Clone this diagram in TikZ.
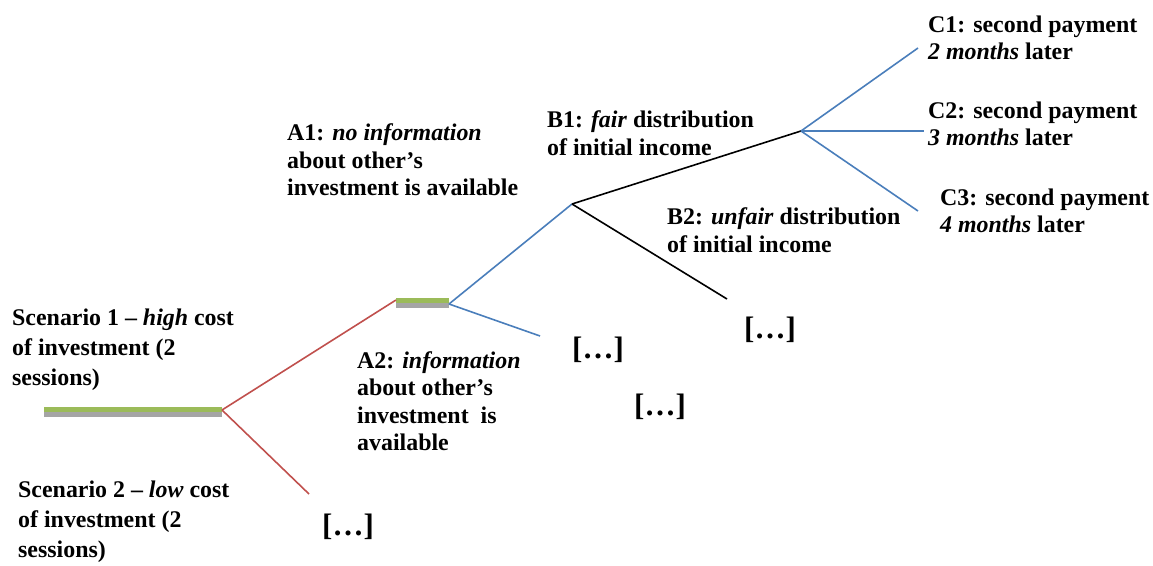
\documentclass[tikz,border=0pt]{standalone}
\usepackage{fontspec}
\setmainfont{Liberation Serif}
\usetikzlibrary{arrows.meta}

\definecolor{treeblue}{RGB}{74,126,187}
\definecolor{treered}{RGB}{192,80,77}
\definecolor{bargreen}{RGB}{155,187,89}
\definecolor{bargrey}{RGB}{165,165,165}

\tikzset{
    lbl/.style={anchor=west, align=left, inner sep=0pt,
        font=\fontsize{23.9}{27.5}\selectfont\bfseries},
    scen/.style={lbl, font=\fontsize{23.9}{30}\selectfont\bfseries},
    more/.style={inner sep=0pt, font=\fontsize{31}{32}\selectfont\bfseries},
    redbr/.style={treered, line width=1.6pt},
    bluebr/.style={treeblue, line width=1.6pt},
    blackbr/.style={black, line width=1.6pt}
}

\begin{document}
\begin{tikzpicture}[x=1pt, y=-1pt]

\useasboundingbox (0,0) rectangle (1153,565);

% ---- Decision points ----
            \coordinate (root) at (222,410);
            \coordinate (aIn)  at (396,300);
            \coordinate (aOut) at (449,304);
            \coordinate (b)    at (572,204);
            \coordinate (c)    at (801,131);

% ---- Bars (green over grey) ----
            \fill[bargrey]  (44,411.5) rectangle (222,416.5);
            \fill[bargreen] (44,406.5) rectangle (222,411.5);
            \fill[bargrey]  (396,303) rectangle (449,308);
            \fill[bargreen] (396,298) rectangle (449,303);

% ---- Branch ends ----
            \coordinate (s2)  at (309,494);
            \coordinate (a2)  at (540,336);
            \coordinate (b2)  at (727,299);
            \coordinate (c1)  at (918,48);
            \coordinate (c2)  at (924,131);
            \coordinate (c3)  at (918,211);

% ---- Branches ----
            \draw[redbr] (root) -- (aIn);
            \draw[redbr] (root) -- (s2);
            \draw[bluebr] (aOut) -- (b);
            \draw[bluebr] (aOut) -- (a2);
            \draw[blackbr] (b) -- (c);
            \draw[blackbr] (b) -- (b2);
            \draw[bluebr] (c) -- (c1);
            \draw[bluebr] (c) -- (c2);
            \draw[bluebr] (c) -- (c3);

% ---- Labels ----
            \node[scen] (scen1) at (12,350) {Scenario 1 -- \textit{high} cost\\of investment (2\\sessions)};
            \node[scen] (scen2) at (18,522) {Scenario 2 -- \textit{low} cost\\of investment (2\\sessions)};
            \node[lbl] (labA1) at (287,160) {A1: \textit{no information}\\about other’s\\investment is available};
            \node[lbl] (labA2) at (357,401) {A2: \textit{information}\\about other’s\\investment\ \ is\\available};
            \node[lbl] (labB1) at (547,133) {B1: \textit{fair} distribution\\of initial income};
            \node[lbl] (labB2) at (667,230) {B2: \textit{unfair} distribution\\of initial income};
            \node[lbl] (labC1) at (928,38) {C1: second payment\\\textit{2 months} later};
            \node[lbl] (labC2) at (928,124) {C2: second payment\\\textit{3 months} later};
            \node[lbl] (labC3) at (940,211) {C3: second payment\\\textit{4 months} later};

% ---- Omitted subtrees ----
            \node[more] (moreA2) at (598,350) {[…]};
            \node[more] (moreB2) at (770,330) {[…]};
            \node[more] (moreX)  at (660,407) {[…]};
            \node[more] (moreS2) at (348,527) {[…]};

\end{tikzpicture}
\end{document}
